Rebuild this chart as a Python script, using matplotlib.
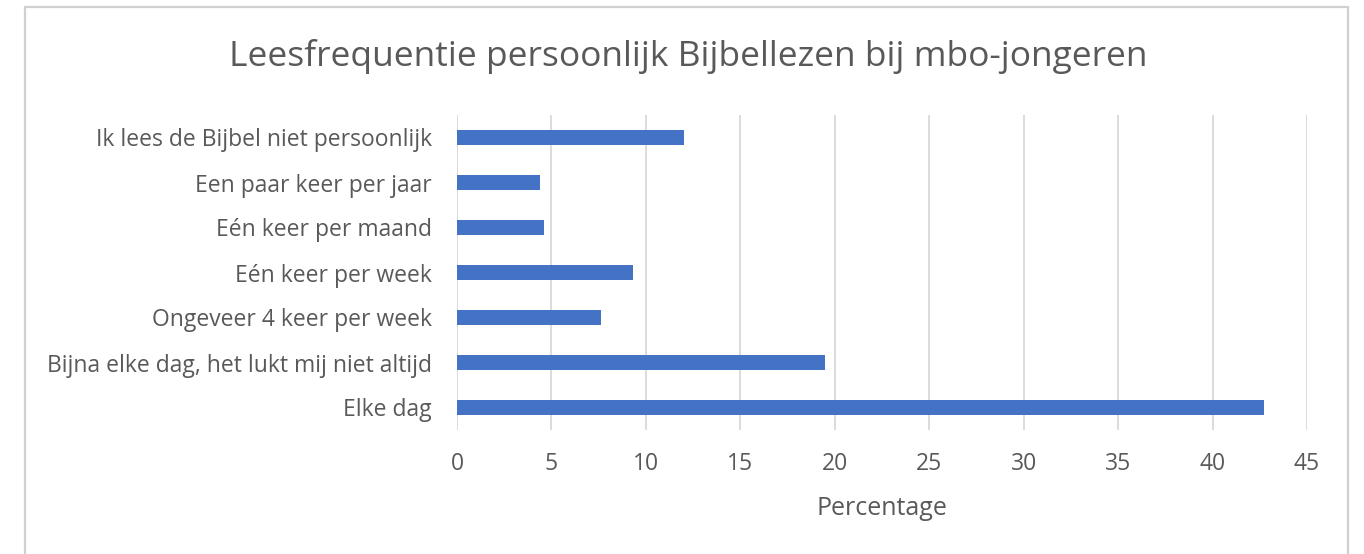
import matplotlib.pyplot as plt
from matplotlib.patches import Rectangle

categories = ["Elke dag",
              "Bijna elke dag, het lukt mij niet altijd",
              "Ongeveer 4 keer per week",
              "Eén keer per week",
              "Eén keer per maand",
              "Een paar keer per jaar",
              "Ik lees de Bijbel niet persoonlijk"]
percentages = [42.7, 19.5, 7.6, 9.3, 4.6, 4.4, 12.0]
xticks = [0, 5, 10, 15, 20, 25, 30, 35, 40, 45]

grey = "#595959"
plt.rcParams['font.family'] = ['Open Sans', 'DejaVu Sans']

fig = plt.figure(figsize=(13.64, 5.54), dpi=100)
# chart frame (Excel style)
fig.patches.append(Rectangle((25 / 1364, -0.01), (1348 - 25) / 1364, 1 - 7 / 554 + 0.01,
                             transform=fig.transFigure, fill=False,
                             edgecolor="#d0d0d0", linewidth=1.6))

ax = fig.add_axes([457 / 1364, 1 - 430 / 554, (1307 - 457) / 1364, (430 - 115) / 554])
ax.barh(range(len(categories)), percentages, height=0.34, color="#4472c4", zorder=3)

ax.set_xlim(0, 45)
ax.set_ylim(-0.5, len(categories) - 0.5)
ax.set_xticks(xticks)
ax.set_yticks(range(len(categories)))
ax.set_yticklabels(categories)
ax.grid(axis="x", color="#d9d9d9", linewidth=1.3, zorder=0)
for s in ax.spines.values():
    s.set_visible(False)
ax.tick_params(axis="both", length=0, colors=grey, labelsize=16.5)
ax.tick_params(axis="y", pad=18)
ax.tick_params(axis="x", pad=16)

ax.set_xlabel("Percentage", color=grey, fontsize=18, labelpad=14)
fig.text(688 / 1364, 1 - 56 / 554, "Leesfrequentie persoonlijk Bijbellezen bij mbo-jongeren",
         ha="center", va="center", color=grey, fontsize=25.5)

fig.savefig("out.png", dpi=100)
